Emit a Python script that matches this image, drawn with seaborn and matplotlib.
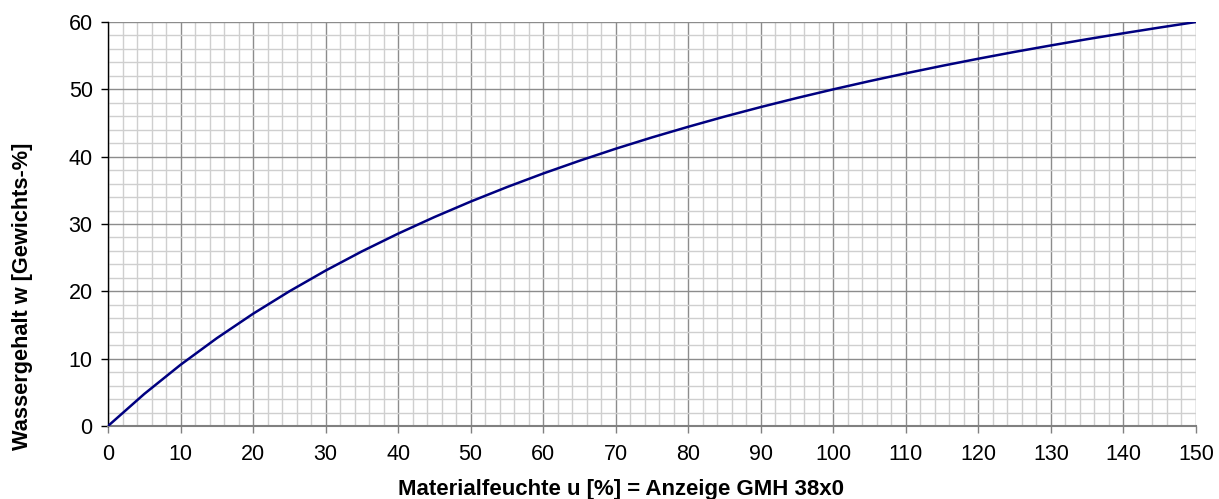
import matplotlib
matplotlib.use("Agg")
import matplotlib.pyplot as plt
import seaborn as sns
import pandas as pd
from matplotlib.ticker import MultipleLocator

# values
u_values = [0, 5, 10, 15, 20, 25, 30, 35, 40, 45, 50, 55, 60, 65, 70, 75,
            80, 85, 90, 95, 100, 105, 110, 115, 120, 125, 130, 135, 140, 145, 150]
w_values = [0.0, 4.76, 9.09, 13.04, 16.67, 20.0, 23.08, 25.93, 28.57, 31.03, 33.33,
            35.48, 37.5, 39.39, 41.18, 42.86, 44.44, 45.95, 47.37, 48.72, 50.0,
            51.22, 52.38, 53.49, 54.55, 55.56, 56.52, 57.45, 58.33, 59.18, 60.0]
x_label = "Materialfeuchte u [%] = Anzeige GMH 38x0"
y_label = "Wassergehalt w [Gewichts-%]"

df = pd.DataFrame({"u": u_values, "w": w_values})

sns.set_style("white")
plt.rcParams["font.family"] = ["Liberation Sans", "DejaVu Sans"]
plt.rcParams["text.color"] = "black"
plt.rcParams["xtick.color"] = "black"
plt.rcParams["ytick.color"] = "black"
plt.rcParams["xtick.labelcolor"] = "black"
plt.rcParams["ytick.labelcolor"] = "black"

fig = plt.figure(figsize=(12.19, 4.99), dpi=100)
ax = fig.add_axes([108 / 1219, 1 - 426 / 499, (1196 - 108) / 1219, (426 - 22) / 499])

ax.set_xlim(0, 150)
ax.set_ylim(0, 60)
ax.xaxis.set_major_locator(MultipleLocator(10))
ax.xaxis.set_minor_locator(MultipleLocator(2))
ax.yaxis.set_major_locator(MultipleLocator(10))
ax.yaxis.set_minor_locator(MultipleLocator(2))
ax.grid(which="minor", color="#cfcfcf", linewidth=1.0, zorder=0)
ax.grid(which="major", color="#8c8c8c", linewidth=1.0, zorder=1)
ax.set_axisbelow(True)

sns.lineplot(data=df, x="u", y="w", ax=ax, color="#000080", linewidth=1.8, zorder=3)

for s in ["top", "right"]:
    ax.spines[s].set_visible(False)
ax.spines["left"].set_color("black")
ax.spines["left"].set_linewidth(1.0)
ax.spines["bottom"].set_color("#808080")
ax.spines["bottom"].set_linewidth(1.5)

ax.tick_params(axis="x", which="major", direction="out", length=5, width=1,
               color="#808080", labelcolor="black", labelsize=15.5, pad=8, bottom=True)
ax.tick_params(axis="y", which="major", direction="out", length=5, width=1,
               color="black", labelcolor="black", labelsize=15.5, pad=6, left=True)
ax.tick_params(which="minor", length=0)

ax.set_xlabel("")
ax.set_ylabel("")
fig.text(621 / 1219, 1 - 489 / 499, x_label, ha="center", va="center",
         fontsize=16, fontweight="bold", color="black")
fig.text(23 / 1219, 1 - 296 / 499, y_label, ha="center", va="center",
         rotation=90, fontsize=15.7, fontweight="bold", color="black")

fig.savefig("out.png", dpi=100)
